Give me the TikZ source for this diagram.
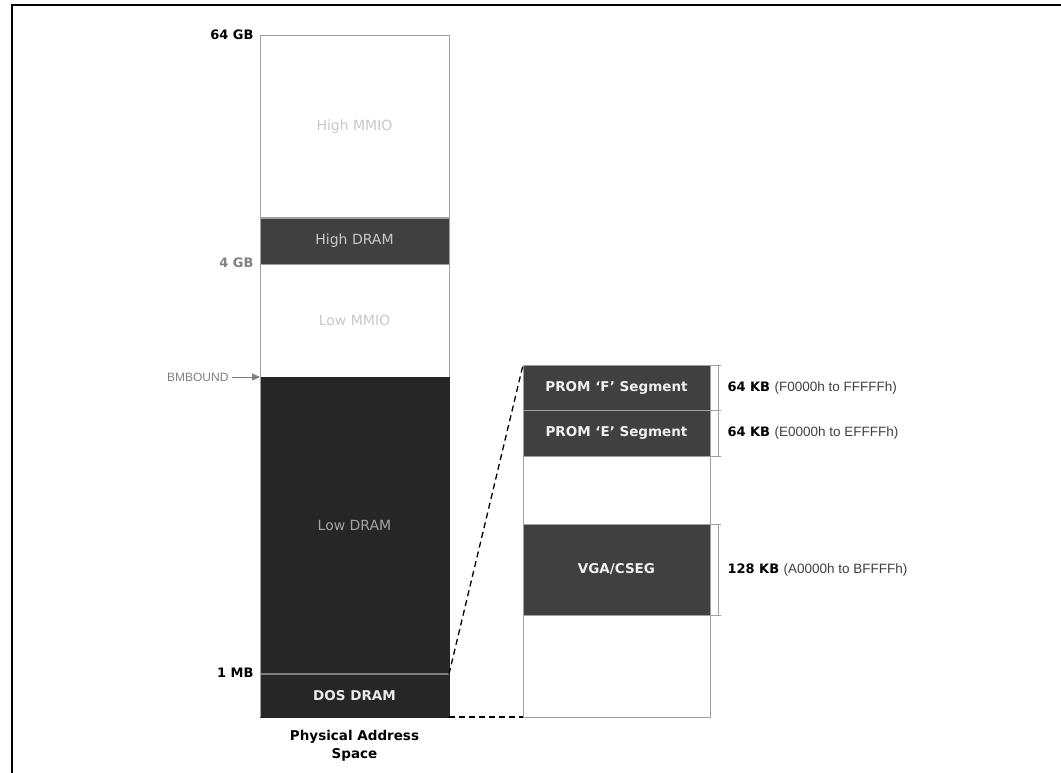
\documentclass[tikz,border=0pt]{standalone}
\usepackage{fontspec}
\setmainfont{DejaVu Sans}
\newfontfamily\narrowfont{Liberation Sans}
\usepackage{tikz}
\usetikzlibrary{positioning}
\usetikzlibrary{arrows.meta}

\definecolor{darkfill}{HTML}{404040}
\definecolor{deepfill}{HTML}{262626}
\definecolor{linegray}{HTML}{A0A0A0}
\definecolor{mmiotext}{HTML}{C8C8C8}
\definecolor{lowtext}{HTML}{A4A4A4}
\definecolor{bmgray}{HTML}{808080}

\tikzset{
  region/.style={draw=linegray, line width=1pt, inner sep=0pt, outer sep=0pt,
    minimum width=189pt, font=\fontsize{14}{16}\selectfont},
  segment/.style={region, minimum width=187pt, fill=darkfill, text=white!94!black,
    font=\bfseries\fontsize{13.5}{16}\selectfont},
  addr/.style={anchor=east, font=\bfseries\fontsize{13}{15}\selectfont},
  size/.style={anchor=west, font=\bfseries\fontsize{13}{15}\selectfont},
  tick/.style={draw=linegray, line width=0.8pt},
  zoomline/.style={line width=1.3pt, dash pattern=on 6pt off 4pt}
}

\begin{document}
\begin{tikzpicture}[x=1pt,y=-1pt]
\useasboundingbox (0,0) rectangle (1061,773);

% frame
\draw[line width=2pt] (12,773) -- (12,5) -- (1062,5);

% physical address space
\node[region, anchor=north west, minimum height=182pt, text=mmiotext] (highmmio) at (260,36) {High MMIO};
\node[region, below=0pt of highmmio, minimum height=46pt, fill=darkfill, text=mmiotext] (highdram) {High DRAM};
\node[region, below=0pt of highdram, minimum height=113pt, text=mmiotext] (lowmmio) {Low MMIO};
\node[region, below=0pt of lowmmio, minimum height=297pt, draw=deepfill, fill=deepfill, text=lowtext] (lowdram) {Low DRAM};
\node[region, below=0pt of lowdram, minimum height=43pt, draw=deepfill, fill=deepfill, text=white!92!black,
  font=\bfseries\fontsize{13.5}{16}\selectfont] (dosdram) {DOS DRAM};
\draw[draw=bmgray, line width=1.2pt] (lowdram.south west) -- (lowdram.south east);
\draw[draw=linegray, line width=1pt] (lowmmio.south west) -- (dosdram.south west);

\node[align=center, below=10pt of dosdram, font=\bfseries\fontsize{13.5}{18}\selectfont] (pas) {Physical Address\\Space};

% boundaries
\node[addr] (gb64) at (257,35) {64 GB};
\node[addr, text=bmgray] (gb4) at (257,263) {4 GB};
\node[addr] (mb1) at (257,673) {1 MB};
\node[anchor=east, text=bmgray, font=\narrowfont\fontsize{12}{14}\selectfont] (bmbound) at (232,377) {BMBOUND};
\draw[-{Triangle[length=8pt,width=7pt]}, draw=bmgray, fill=bmgray, line width=0.9pt] (bmbound) -- (lowmmio.south west);

% first megabyte
\node[region, anchor=north west, minimum width=187pt, minimum height=352pt] (dosmap) at (523,365) {};
\node[segment, anchor=north west, minimum height=45pt] (promf) at (dosmap.north west) {PROM ‘F’ Segment};
\node[segment, below=0pt of promf, minimum height=46pt] (prome) {PROM ‘E’ Segment};
\node[segment, anchor=north west, minimum height=91pt] (vga) at (523,524) {VGA/CSEG};

\draw[zoomline] (dosdram.north east) -- (promf.north west);
\draw[zoomline] (dosdram.south east) -- (dosmap.south west);

% sizes
\draw[tick] (promf.north east) -- ++(11,0);
\draw[tick] (prome.north east) -- ++(11,0);
\draw[tick] (prome.south east) -- ++(11,0);
\draw[tick] ([xshift=8pt]promf.north east) -- ([xshift=8pt]prome.south east);
\draw[tick] (vga.north east) -- ++(11,0);
\draw[tick] (vga.south east) -- ++(11,0);
\draw[tick] ([xshift=8pt]vga.north east) -- ([xshift=8pt]vga.south east);

\node[size] (sizef) at (724,388) {64 KB {\mdseries\narrowfont\fontsize{13.5}{15}\selectfont\color{darkfill}(F0000h to FFFFFh)}};
\node[size] (sizee) at (724,433) {64 KB {\mdseries\narrowfont\fontsize{13.5}{15}\selectfont\color{darkfill}(E0000h to EFFFFh)}};
\node[size] (sizevga) at (724,570) {128 KB {\mdseries\narrowfont\fontsize{13.5}{15}\selectfont\color{darkfill}(A0000h to BFFFFh)}};
\end{tikzpicture}
\end{document}
